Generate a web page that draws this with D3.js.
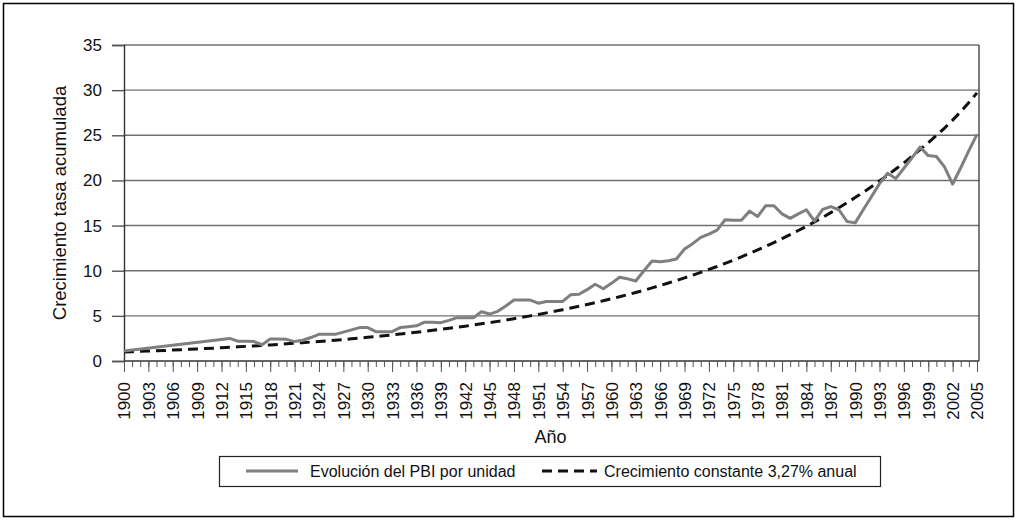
<!DOCTYPE html>
<html>
<head>
<meta charset="utf-8">
<script src="https://cdn.jsdelivr.net/npm/d3@7"></script>
<style>
  body { margin: 0; background: #fff; }
  svg { display: block; font-family: "Liberation Sans", Arial, sans-serif; }
</style>
</head>
<body>
<div id="chart"></div>
<script>
const width = 1027;
const height = 521;
const margin = {left: 124, right: 50, top: 45, bottom: 160};

// categories: one per year
const years = d3.range(1900, 2006);
const labelYears = years.filter(y => (y - 1900) % 3 === 0);
const yTicks = [0, 5, 10, 15, 20, 25, 30, 35];

// Evolución del PBI por unidad (null = no point, the line joins the neighbours)
const pbi = [
  1.1, null, null, null, null, null, null, null, null, null,
  null, null, null, 2.5, 2.2, 2.2, 2.15, 1.8, 2.45, 2.45,
  2.4, 2.15, 2.3, 2.6, 2.95, 2.95, 2.95, 3.2, 3.45, 3.7,
  3.7, 3.25, 3.25, 3.25, 3.7, 3.8, 3.9, 4.3, 4.3, 4.25,
  4.5, 4.8, 4.8, 4.8, 5.45, 5.2, 5.5, 6.1, 6.75, 6.75,
  6.75, 6.4, 6.6, 6.6, 6.6, 7.35, 7.4, 7.9, 8.5, 8.0,
  8.6, 9.27, 9.1, 8.86, 10.0, 11.07, 11.0, 11.1, 11.3, 12.4,
  13.0, 13.7, 14.05, 14.5, 15.65, 15.6, 15.6, 16.6, 16.0, 17.2,
  17.2, 16.3, 15.8, 16.3, 16.75, 15.5, 16.8, 17.1, 16.75, 15.45,
  15.3, 16.75, 18.2, 19.65, 20.8, 20.2, 21.35, 22.5, 23.7, 22.75,
  22.65, 21.5, 19.6, 21.4, 23.3, 25.1
];

// Crecimiento constante 3,27% anual
const trend = [
  1.00, 1.03, 1.07, 1.10, 1.14, 1.17, 1.21, 1.25, 1.29, 1.34,
  1.38, 1.42, 1.47, 1.52, 1.57, 1.62, 1.67, 1.73, 1.78, 1.84,
  1.90, 1.97, 2.03, 2.10, 2.16, 2.24, 2.31, 2.38, 2.46, 2.54,
  2.63, 2.71, 2.80, 2.89, 2.99, 3.08, 3.18, 3.29, 3.40, 3.51,
  3.62, 3.74, 3.86, 3.99, 4.12, 4.25, 4.39, 4.54, 4.69, 4.84,
  5.00, 5.16, 5.33, 5.50, 5.68, 5.87, 6.06, 6.26, 6.46, 6.68,
  6.89, 7.12, 7.35, 7.59, 7.84, 8.10, 8.36, 8.64, 8.92, 9.21,
  9.51, 9.82, 10.14, 10.47, 10.82, 11.17, 11.54, 11.91, 12.30, 12.70,
  13.12, 13.55, 13.99, 14.45, 14.92, 15.41, 15.91, 16.43, 16.97, 17.53,
  18.10, 18.69, 19.30, 19.93, 20.59, 21.26, 21.95, 22.67, 23.41, 24.18,
  24.97, 25.80, 26.68, 27.62, 28.62, 29.70
];

const seriesNames = ["Evolución del PBI por unidad", "Crecimiento constante 3,27% anual"];

const svg = d3.select("#chart")
  .append("svg")
  .attr("width", width)
  .attr("height", height);

// outer chart frame
svg.append("rect")
  .attr("x", 3.5).attr("y", 3.5)
  .attr("width", 1010).attr("height", 513)
  .attr("fill", "none")
  .attr("stroke", "#000")
  .attr("stroke-width", 1.5);

const x = d3.scalePoint()
  .domain(years)
  .range([margin.left, 977]);

const y = d3.scaleLinear()
  .domain([0, 35])
  .range([361, margin.top]);

// horizontal gridlines
svg.append("g")
  .selectAll("line")
  .data(yTicks.slice(1))
  .join("line")
    .attr("x1", margin.left).attr("x2", 979)
    .attr("y1", d => y(d)).attr("y2", d => y(d))
    .attr("stroke", "#707070")
    .attr("stroke-width", 1.4);

// right border of plot area
svg.append("line")
  .attr("x1", 979).attr("x2", 979)
  .attr("y1", y(35)).attr("y2", y(0))
  .attr("stroke", "#444")
  .attr("stroke-width", 1.4);

// y axis
const yAxis = svg.append("g")
  .attr("transform", `translate(${margin.left},0)`)
  .call(d3.axisLeft(y).tickValues(yTicks).tickSize(12).tickPadding(10));
yAxis.selectAll("text").attr("font-size", "17px").attr("fill", "#111");
yAxis.select(".domain").attr("stroke", "#333").attr("stroke-width", 1.4);
yAxis.selectAll(".tick line").attr("stroke", "#555").attr("stroke-width", 1.4);

// x axis: minor ticks every year
const xMinor = svg.append("g")
  .attr("transform", `translate(0,${y(0)})`)
  .call(d3.axisBottom(x).tickValues(years).tickSize(6).tickFormat(""));
xMinor.select(".domain").attr("stroke", "#333").attr("stroke-width", 1.4).attr("d", `M${margin.left},0H979`);
xMinor.selectAll(".tick line").attr("stroke", "#555");

// x axis: labelled years every 3
const xMajor = svg.append("g")
  .attr("transform", `translate(0,${y(0)})`)
  .call(d3.axisBottom(x).tickValues(labelYears).tickSize(11));
xMajor.select(".domain").remove();
xMajor.selectAll(".tick line").attr("stroke", "#555");
xMajor.selectAll("text")
  .attr("font-size", "17px")
  .attr("fill", "#111")
  .attr("text-anchor", "end")
  .attr("transform", "rotate(-90)")
  .attr("x", -21)
  .attr("y", 0)
  .attr("dy", "0.35em");

// axis titles
svg.append("text")
  .attr("x", (margin.left + 977) / 2)
  .attr("y", 443)
  .attr("text-anchor", "middle")
  .attr("font-size", "18px")
  .attr("fill", "#111")
  .text("Año");

svg.append("text")
  .attr("transform", `translate(66,${(y(0) + y(35)) / 2}) rotate(-90)`)
  .attr("text-anchor", "middle")
  .attr("font-size", "18.5px")
  .attr("fill", "#111")
  .text("Crecimiento tasa acumulada");

// lines
const pbiPoints = years.map((yr, i) => ({year: yr, v: pbi[i]})).filter(d => d.v !== null);
const trendPoints = years.map((yr, i) => ({year: yr, v: trend[i]}));

const line = d3.line()
  .x(d => x(d.year))
  .y(d => y(d.v));

svg.append("path")
  .datum(trendPoints)
  .attr("fill", "none")
  .attr("stroke", "#111")
  .attr("stroke-width", 3)
  .attr("stroke-dasharray", "10,6")
  .attr("d", line);

svg.append("path")
  .datum(pbiPoints)
  .attr("fill", "none")
  .attr("stroke", "#7f7f7f")
  .attr("stroke-width", 3)
  .attr("stroke-linejoin", "round")
  .attr("d", line);

// legend
const legend = svg.append("g");
legend.append("rect")
  .attr("x", 219.5).attr("y", 456.5)
  .attr("width", 661).attr("height", 30)
  .attr("fill", "#fff")
  .attr("stroke", "#222")
  .attr("stroke-width", 1.2);

legend.append("line")
  .attr("x1", 246).attr("x2", 298)
  .attr("y1", 471).attr("y2", 471)
  .attr("stroke", "#7f7f7f").attr("stroke-width", 3);
legend.append("text")
  .attr("x", 310).attr("y", 477)
  .attr("font-size", "16px").attr("fill", "#111")
  .text(seriesNames[0]);

legend.append("line")
  .attr("x1", 542).attr("x2", 597)
  .attr("y1", 471).attr("y2", 471)
  .attr("stroke", "#111").attr("stroke-width", 3)
  .attr("stroke-dasharray", "10,6");
legend.append("text")
  .attr("x", 604).attr("y", 477)
  .attr("font-size", "16px").attr("fill", "#111")
  .text(seriesNames[1]);
</script>
</body>
</html>
